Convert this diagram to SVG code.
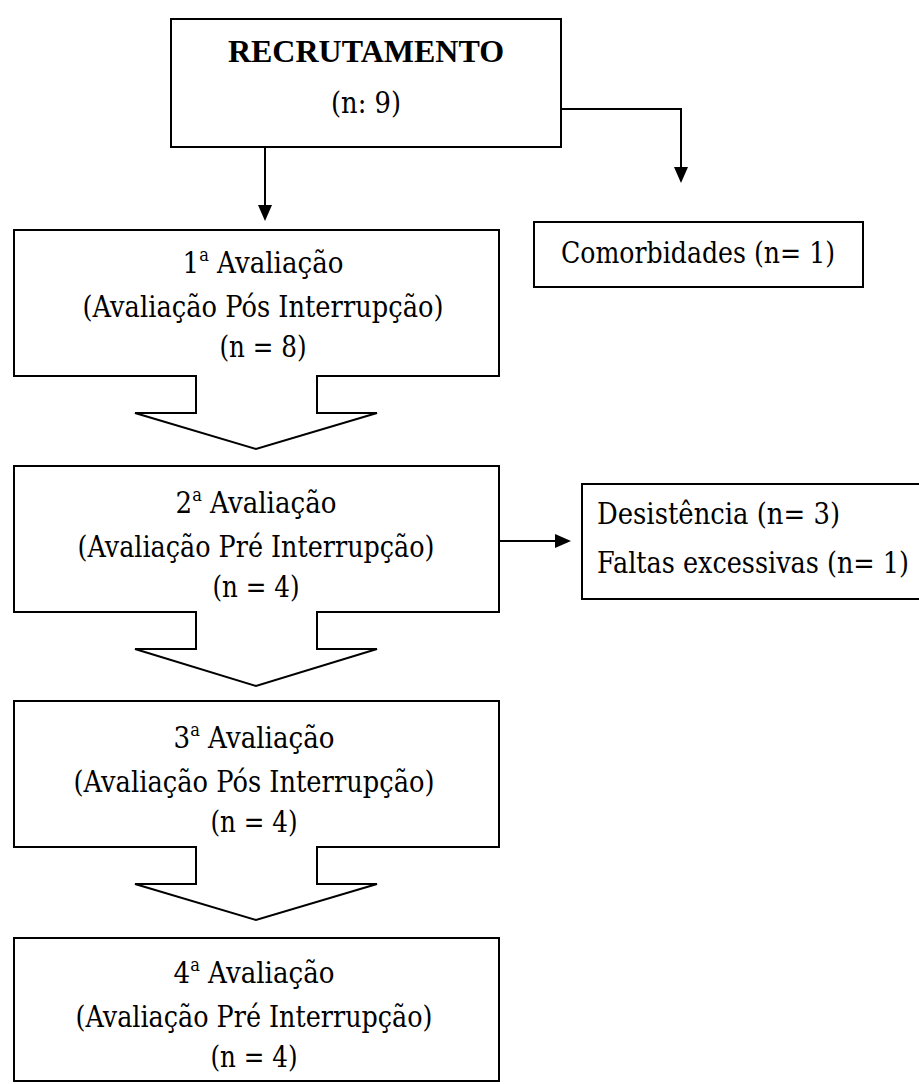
<svg xmlns="http://www.w3.org/2000/svg" width="919" height="1084" viewBox="0 0 919 1084">
  <style>
    .box { fill: #ffffff; stroke: #000000; stroke-width: 2; }
    text { font-family: "DejaVu Serif", serif; font-size: 29px; fill: #000000; }
    .c { text-anchor: middle; }
    .b { font-family: "Liberation Serif", "Times New Roman", serif; font-size: 32px; font-weight: 700; }
    .sup { font-size: 18px; }
    .big { font-size: 30px; }
    .line { fill: none; stroke: #000000; stroke-width: 2; }
    .mask { fill: #ffffff; stroke: none; }
  </style>
  <defs>
    <marker id="ah" viewBox="0 0 16 14" refX="14" refY="7" markerWidth="16" markerHeight="14" markerUnits="userSpaceOnUse" orient="auto">
      <path d="M0,0 L16,7 L0,14 Z" fill="#000000"/>
    </marker>
  </defs>
  <rect width="919" height="1084" fill="#ffffff"/>

  <g id="recrutamento">
    <rect class="box" x="171" y="19" width="390" height="128"/>
    <text class="c b" x="366" y="62">RECRUTAMENTO</text>
    <text class="c" x="366" y="113" textLength="70" lengthAdjust="spacingAndGlyphs">(n: 9)</text>
  </g>

  <g id="comorbidades">
    <rect class="box" x="534" y="222" width="329" height="65"/>
    <text class="c" x="698" y="263" textLength="274" lengthAdjust="spacingAndGlyphs">Comorbidades (n= 1)</text>
  </g>

  <g id="avaliacao1">
    <rect class="box" x="14" y="230" width="485" height="146"/>
    <text class="c" x="263" y="273" textLength="161" lengthAdjust="spacingAndGlyphs">1<tspan class="sup" dy="-12">a</tspan><tspan dy="12"> Avaliação</tspan></text>
    <text class="c" x="263" y="317" textLength="361" lengthAdjust="spacingAndGlyphs">(Avaliação Pós Interrupção)</text>
    <text class="c" x="263" y="357" textLength="87" lengthAdjust="spacingAndGlyphs">(n = 8)</text>
  </g>

  <g id="avaliacao2">
    <rect class="box" x="14" y="466" width="485" height="146"/>
    <text class="c" x="256" y="513" textLength="161" lengthAdjust="spacingAndGlyphs">2<tspan class="sup" dy="-12">a</tspan><tspan dy="12"> Avaliação</tspan></text>
    <text class="c" x="256" y="557" textLength="357" lengthAdjust="spacingAndGlyphs">(Avaliação Pré Interrupção)</text>
    <text class="c" x="256" y="597" textLength="87" lengthAdjust="spacingAndGlyphs">(n = 4)</text>
  </g>

  <g id="desistencia">
    <rect class="box" x="582" y="484" width="345" height="115"/>
    <text class="big" x="597" y="524" textLength="243" lengthAdjust="spacingAndGlyphs">Desistência (n= 3)</text>
    <text class="big" x="597" y="573" textLength="312" lengthAdjust="spacingAndGlyphs">Faltas excessivas (n= 1)</text>
  </g>

  <g id="avaliacao3">
    <rect class="box" x="14" y="701" width="485" height="146"/>
    <text class="c" x="254" y="748" textLength="161" lengthAdjust="spacingAndGlyphs">3<tspan class="sup" dy="-12">a</tspan><tspan dy="12"> Avaliação</tspan></text>
    <text class="c" x="254" y="792" textLength="361" lengthAdjust="spacingAndGlyphs">(Avaliação Pós Interrupção)</text>
    <text class="c" x="254" y="832" textLength="87" lengthAdjust="spacingAndGlyphs">(n = 4)</text>
  </g>

  <g id="avaliacao4">
    <rect class="box" x="14" y="938" width="485" height="143"/>
    <text class="c" x="254" y="983" textLength="161" lengthAdjust="spacingAndGlyphs">4<tspan class="sup" dy="-12">a</tspan><tspan dy="12"> Avaliação</tspan></text>
    <text class="c" x="254" y="1027" textLength="357" lengthAdjust="spacingAndGlyphs">(Avaliação Pré Interrupção)</text>
    <text class="c" x="254" y="1067" textLength="87" lengthAdjust="spacingAndGlyphs">(n = 4)</text>
  </g>

  <g id="connectors">
    <line class="line" x1="265" y1="147" x2="265" y2="219" marker-end="url(#ah)"/>
    <polyline class="line" points="561,109 681,109 681,181" marker-end="url(#ah)"/>
    <line class="line" x1="500" y1="541" x2="569" y2="541" marker-end="url(#ah)"/>

    <rect class="mask" x="197" y="373" width="119" height="5"/>
    <path class="line" d="M196,376 V413 H135 L256,449 L377,413 H317 V376"/>

    <rect class="mask" x="197" y="609" width="119" height="5"/>
    <path class="line" d="M196,612 V649 H135 L256,686 L377,649 H317 V612"/>

    <rect class="mask" x="197" y="844" width="119" height="5"/>
    <path class="line" d="M196,847 V884 H135 L256,920 L377,884 H317 V847"/>
  </g>
</svg>
